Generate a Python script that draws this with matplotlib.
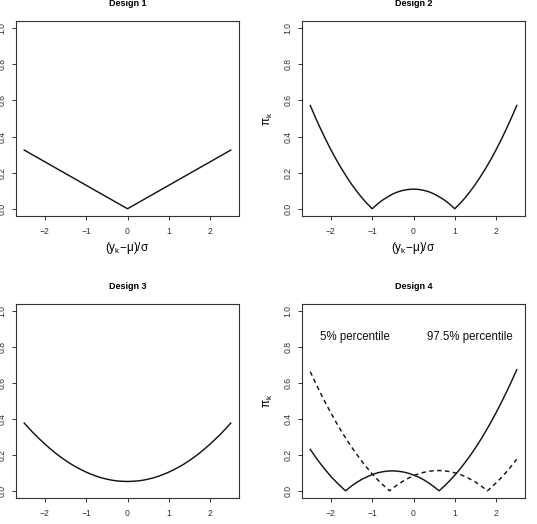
import matplotlib
matplotlib.use("Agg")
import matplotlib.pyplot as plt

plt.rcParams['font.family'] = ['Liberation Sans', 'DejaVu Sans']
plt.rcParams['mathtext.fontset'] = 'custom'
plt.rcParams['mathtext.rm'] = 'Liberation Sans'
plt.rcParams['mathtext.it'] = 'Liberation Sans'
plt.rcParams['mathtext.default'] = 'regular'

# ---- data ----
titles = ["Design 1", "Design 2", "Design 3", "Design 4"]

x1 = [-2.5, 0.0, 2.5]
y1 = [0.325, 0.0, 0.325]

x2 = [-2.5, -2.375, -2.25, -2.125, -2.0, -1.875, -1.75, -1.625, -1.5, -1.375, -1.25, -1.125,
      -1.0, -0.875, -0.75, -0.625, -0.5, -0.375, -0.25, -0.125, 0.0,
      0.125, 0.25, 0.375, 0.5, 0.625, 0.75, 0.875, 1.0,
      1.125, 1.25, 1.375, 1.5, 1.625, 1.75, 1.875, 2.0, 2.125, 2.25, 2.375, 2.5]
y2 = [0.572, 0.506, 0.443, 0.383, 0.327, 0.274, 0.225, 0.179, 0.136, 0.097, 0.061, 0.029,
      0.0, 0.026, 0.048, 0.066, 0.082, 0.094, 0.102, 0.107, 0.109,
      0.107, 0.102, 0.094, 0.082, 0.066, 0.048, 0.026, 0.0,
      0.029, 0.061, 0.097, 0.136, 0.179, 0.225, 0.274, 0.327, 0.383, 0.443, 0.506, 0.572]

x3 = [-2.5, -2.375, -2.25, -2.125, -2.0, -1.875, -1.75, -1.625, -1.5, -1.375, -1.25, -1.125,
      -1.0, -0.875, -0.75, -0.625, -0.5, -0.375, -0.25, -0.125, 0.0,
      0.125, 0.25, 0.375, 0.5, 0.625, 0.75, 0.875, 1.0,
      1.125, 1.25, 1.375, 1.5, 1.625, 1.75, 1.875, 2.0, 2.125, 2.25, 2.375, 2.5]
y3 = [0.377, 0.345, 0.315, 0.287, 0.260, 0.235, 0.211, 0.189, 0.169, 0.150, 0.133, 0.118,
      0.104, 0.092, 0.081, 0.072, 0.065, 0.059, 0.055, 0.053, 0.052,
      0.053, 0.055, 0.059, 0.065, 0.072, 0.081, 0.092, 0.104,
      0.118, 0.133, 0.150, 0.169, 0.189, 0.211, 0.235, 0.260, 0.287, 0.315, 0.345, 0.377]

x4_solid = [-2.5, -2.375, -2.25, -2.125, -2.0, -1.875, -1.75, -1.645, -1.5, -1.375, -1.25, -1.125,
            -1.0, -0.875, -0.75, -0.625, -0.5, -0.375, -0.25, -0.125, 0.0,
            0.125, 0.25, 0.375, 0.5, 0.62, 0.75, 0.875, 1.0,
            1.125, 1.25, 1.375, 1.5, 1.625, 1.75, 1.875, 2.0, 2.125, 2.25, 2.375, 2.5]
y4_solid = [0.231, 0.189, 0.150, 0.114, 0.080, 0.050, 0.022, 0.0, 0.027, 0.047, 0.064, 0.078,
            0.090, 0.100, 0.106, 0.110, 0.111, 0.109, 0.105, 0.098, 0.088,
            0.076, 0.061, 0.043, 0.022, 0.0, 0.027, 0.056, 0.087,
            0.121, 0.158, 0.197, 0.239, 0.284, 0.332, 0.382, 0.435, 0.491, 0.549, 0.610, 0.674]

x4_dash = [-2.5, -2.375, -2.25, -2.125, -2.0, -1.875, -1.75, -1.625, -1.5, -1.375, -1.25, -1.125,
           -1.0, -0.875, -0.75, -0.58, -0.5, -0.375, -0.25, -0.125, 0.0,
           0.125, 0.25, 0.375, 0.5, 0.625, 0.75, 0.875, 1.0,
           1.125, 1.25, 1.375, 1.5, 1.625, 1.75, 1.79, 1.875, 2.0, 2.125, 2.25, 2.375, 2.5]
y4_dash = [0.663, 0.602, 0.543, 0.487, 0.433, 0.382, 0.333, 0.287, 0.244, 0.203, 0.164, 0.128,
           0.094, 0.063, 0.035, 0.0, 0.015, 0.036, 0.054, 0.070, 0.084,
           0.095, 0.103, 0.109, 0.112, 0.113, 0.111, 0.107, 0.100,
           0.091, 0.080, 0.065, 0.049, 0.029, 0.007, 0.0, 0.017, 0.044, 0.073, 0.105, 0.139, 0.176]

ann_labels = ["5% percentile", "97.5% percentile"]
ann_x = [-1.41, 1.36]
ann_y = [0.855, 0.855]

xticks = [-2, -1, 0, 1, 2]
xticklabels = ["\u22122", "\u22121", "0", "1", "2"]
yticks = [0.0, 0.2, 0.4, 0.6, 0.8, 1.0]
yticklabels = ["0.0", "0.2", "0.4", "0.6", "0.8", "1.0"]

xlabel = r'$(y_k{-}\mu)/\sigma$'
ylabel = r'$\pi_k$'

# ---- figure ----
W, H = 537, 524
fig = plt.figure(figsize=(W / 100, H / 100), dpi=100)

def px_axes(left, top, right, bottom):
    return fig.add_axes([left / W, 1 - bottom / H, (right - left) / W, (bottom - top) / H])

boxes = [(16, 21, 239, 216), (302, 21, 525, 216),
         (16, 304, 239, 498), (302, 304, 525, 498)]
axes = [px_axes(*b) for b in boxes]

ink = '#151515'
for i, ax in enumerate(axes):
    ax.set_xlim(-2.7, 2.7)
    ax.set_ylim(-0.04, 1.04)
    ax.set_xticks(xticks)
    ax.set_xticklabels(xticklabels)
    ax.set_yticks(yticks)
    ax.set_yticklabels(yticklabels, rotation=90, va='center')
    ax.tick_params(direction='out', length=2.9, width=0.7, colors='#333333',
                   labelsize=6.2, labelcolor='#333333')
    ax.tick_params(axis='x', pad=5.0)
    ax.tick_params(axis='y', pad=3.8)
    for s in ax.spines.values():
        s.set_linewidth(0.8)
        s.set_color('#333333')
    ax.set_title(titles[i], fontsize=6.5, fontweight='bold', pad=11)
    ax.set_xlabel(xlabel, fontsize=8.5, labelpad=3.0)
    if i in (1, 3):
        ax.set_ylabel(ylabel, fontsize=8.5, labelpad=6.5)

axes[0].plot(x1, y1, color=ink, lw=1.05)
axes[1].plot(x2, y2, color=ink, lw=1.05)
axes[2].plot(x3, y3, color=ink, lw=1.05)
axes[3].plot(x4_solid, y4_solid, color=ink, lw=1.05)
axes[3].plot(x4_dash, y4_dash, color=ink, lw=1.05, linestyle=(0, (3.0, 2.4)))
for t, x, y in zip(ann_labels, ann_x, ann_y):
    axes[3].text(x, y, t, fontsize=8.3, ha='center', va='center', color='#111111')

fig.savefig("out.png", dpi=100)
